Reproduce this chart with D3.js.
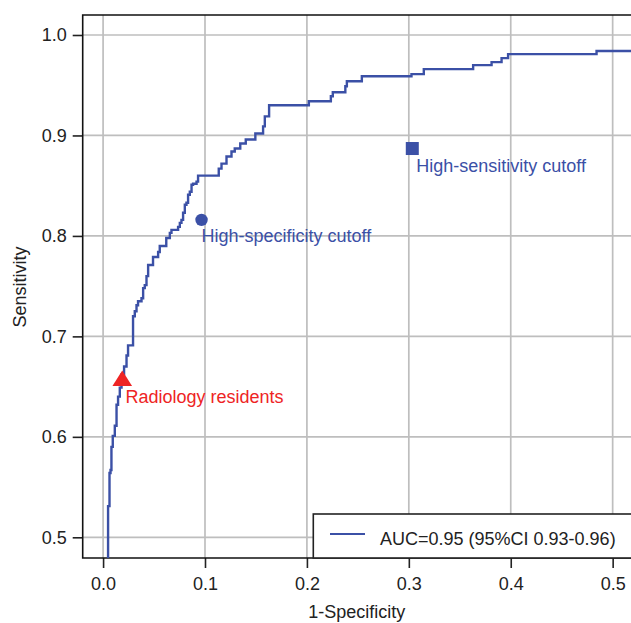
<!DOCTYPE html>
<html>
<head>
<meta charset="utf-8">
<script src="https://cdn.jsdelivr.net/npm/d3@7"></script>
<style>
    body { margin: 0; background: #fff; }
    #chart { width: 631px; height: 623px; }
    text { font-family: "Liberation Sans", Arial, sans-serif; font-size: 18px; }
</style>
</head>
<body>
<div id="chart"></div>
<script>
// ROC curve vertices (drawn as steps: across, then up)
const fpr = [0.0049,0.0049,0.0063,0.0073,0.0082,0.0095,0.0115,0.0132,0.0147,0.0164,0.0181,0.0206,0.0230,0.0245,0.0294,0.0311,0.0328,0.0343,0.0377,0.0393,0.0409,0.0426,0.0442,0.0490,0.0540,0.0556,0.0620,0.0655,0.0671,0.0736,0.0753,0.0769,0.0785,0.0802,0.0818,0.0834,0.0851,0.0868,0.0883,0.0917,0.0932,0.1135,0.1162,0.1211,0.1260,0.1292,0.1346,0.1400,0.1494,0.1570,0.1587,0.1629,0.2019,0.2235,0.2254,0.2377,0.2392,0.2539,0.3026,0.3147,0.3631,0.3812,0.3910,0.3974,0.4842,0.5300];
const tpr = [0.400,0.531,0.564,0.567,0.590,0.601,0.611,0.632,0.640,0.649,0.662,0.670,0.681,0.691,0.720,0.725,0.731,0.735,0.738,0.748,0.751,0.760,0.771,0.779,0.784,0.790,0.798,0.803,0.806,0.809,0.813,0.816,0.823,0.831,0.833,0.841,0.844,0.851,0.852,0.854,0.860,0.867,0.872,0.879,0.884,0.887,0.892,0.896,0.902,0.909,0.919,0.930,0.934,0.939,0.943,0.949,0.954,0.959,0.961,0.966,0.970,0.973,0.977,0.981,0.984,0.984];

// cutoff markers
const markerLabels = ["High-specificity cutoff", "High-sensitivity cutoff", "Radiology residents"];
const markerFpr = [0.0966, 0.3034, 0.0188];
const markerTpr = [0.816, 0.887, 0.6558];
const markerShapes = ["circle", "square", "triangle"];

const xTicks = [0.0, 0.1, 0.2, 0.3, 0.4, 0.5];
const yTicks = [0.5, 0.6, 0.7, 0.8, 0.9, 1.0];
const legendText = "AUC=0.95 (95%CI 0.93-0.96)";

const blue = "#3b50a6";
const red = "#ee2424";

const width = 631, height = 623;
const plot = { left: 82.7, top: 15, right: 631, bottom: 558 };

const svg = d3.select("#chart").append("svg")
    .attr("width", width)
    .attr("height", height);

const x = d3.scaleLinear().domain([-0.02, 0.518]).range([plot.left, plot.right]);
const y = d3.scaleLinear().domain([0.4794, 1.0199]).range([plot.bottom, plot.top]);

svg.append("clipPath").attr("id", "clip")
    .append("rect")
    .attr("x", plot.left).attr("y", plot.top)
    .attr("width", plot.right - plot.left).attr("height", plot.bottom - plot.top);

//GRID ---------------------------------------------------------------
const grid = svg.append("g").attr("clip-path", "url(#clip)");
grid.selectAll(".vgrid").data(xTicks).enter()
    .append("line")
    .attr("x1", d => x(d)).attr("x2", d => x(d))
    .attr("y1", plot.top).attr("y2", plot.bottom)
    .attr("stroke", "#bebebe").attr("stroke-width", 1.7);
grid.selectAll(".hgrid").data(yTicks).enter()
    .append("line")
    .attr("y1", d => y(d)).attr("y2", d => y(d))
    .attr("x1", plot.left).attr("x2", plot.right)
    .attr("stroke", "#bebebe").attr("stroke-width", 1.7);

//AXES ---------------------------------------------------------------
const xAxis = svg.append("g")
    .attr("transform", `translate(0,${plot.bottom})`)
    .call(d3.axisBottom(x).tickValues(xTicks).tickFormat(d3.format(".1f")).tickSize(10).tickPadding(9));
const yAxis = svg.append("g")
    .attr("transform", `translate(${plot.left},0)`)
    .call(d3.axisLeft(y).tickValues(yTicks).tickFormat(d3.format(".1f")).tickSize(10).tickPadding(6));

[xAxis, yAxis].forEach(ax => {
    ax.select(".domain").remove();
    ax.selectAll(".tick line").attr("stroke", "#222").attr("stroke-width", 1.6);
    ax.selectAll(".tick text").attr("fill", "#222").style("font-size", "18px")
        .style("font-family", '"Liberation Sans", Arial, sans-serif');
});

// frame: left, top and bottom edges
svg.append("path")
    .attr("d", `M${plot.right + 5},${plot.top}H${plot.left}V${plot.bottom}H${plot.right + 5}`)
    .attr("fill", "none").attr("stroke", "#111").attr("stroke-width", 1.6);

svg.append("text")
    .attr("x", (plot.left + plot.right) / 2).attr("y", 618)
    .attr("text-anchor", "middle").attr("fill", "#222")
    .text("1-Specificity");
svg.append("text")
    .attr("transform", `translate(26,287) rotate(-90)`)
    .attr("text-anchor", "middle").attr("fill", "#222")
    .text("Sensitivity");

//CURVE --------------------------------------------------------------
const rocPoints = fpr.map((d, i) => ({ fpr: d, tpr: tpr[i] }));
const line = d3.line()
    .x(d => x(d.fpr))
    .y(d => y(d.tpr))
    .curve(d3.curveStepAfter);

svg.append("path")
    .datum(rocPoints)
    .attr("clip-path", "url(#clip)")
    .attr("d", line)
    .attr("fill", "none")
    .attr("stroke", blue)
    .attr("stroke-width", 2.4);

//MARKERS ------------------------------------------------------------
const markers = markerLabels.map((label, i) => ({
    label, fpr: markerFpr[i], tpr: markerTpr[i], shape: markerShapes[i]
}));

markers.forEach(m => {
    const cx = x(m.fpr), cy = y(m.tpr);
    let color = blue, lx = cx, ly = cy + 21.7;
    if (m.shape === "circle") {
        svg.append("circle").attr("cx", cx).attr("cy", cy).attr("r", 6.2).attr("fill", blue);
    } else if (m.shape === "square") {
        svg.append("rect").attr("x", cx - 6.5).attr("y", cy - 6.5)
            .attr("width", 13).attr("height", 13).attr("fill", blue);
        lx = cx + 4; ly = cy + 23.4;
    } else {
        color = red;
        svg.append("path")
            .attr("d", `M${cx},${cy - 10.2}L${cx + 9.8},${cy + 5.1}L${cx - 9.8},${cy + 5.1}Z`)
            .attr("fill", red);
        lx = cx + 3.2; ly = cy + 22.4;
    }
    svg.append("text").attr("x", lx).attr("y", ly).attr("fill", color).text(m.label);
});

//LEGEND -------------------------------------------------------------
const legend = svg.append("g");
legend.append("rect")
    .attr("x", 313.3).attr("y", 514)
    .attr("width", 340).attr("height", plot.bottom - 514)
    .attr("fill", "#fff").attr("stroke", "#222").attr("stroke-width", 1.6);
legend.append("line")
    .attr("x1", 330).attr("x2", 365).attr("y1", 534).attr("y2", 534)
    .attr("stroke", blue).attr("stroke-width", 2);
legend.append("text")
    .attr("x", 380).attr("y", 545).attr("fill", "#222")
    .text(legendText);
</script>
</body>
</html>
